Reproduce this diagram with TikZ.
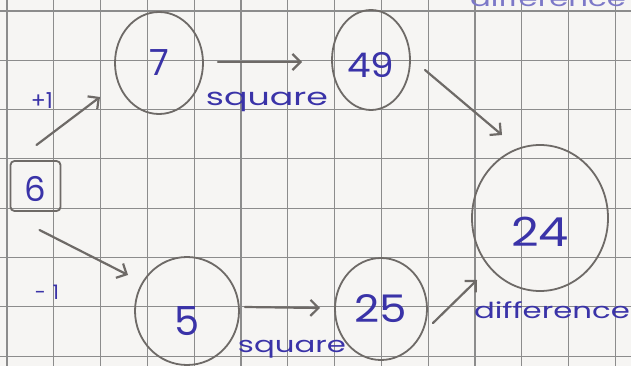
\documentclass[tikz,border=0pt]{standalone}
\usepackage{fontspec}
\setmainfont{Poppins}
\usetikzlibrary{shapes.geometric,arrows.meta}
\definecolor{paper}{HTML}{F6F5F3}
\definecolor{gridc}{HTML}{8C8C8C}
\definecolor{ink}{HTML}{3A33A8}
\definecolor{inkfaint}{HTML}{7C78C8}
\definecolor{pencil}{HTML}{6E6A67}
\newcommand\widetext[2]{\scalebox{#1}[1]{#2}}
\tikzset{
  bubble/.style={ellipse, draw=pencil, line width=1.8pt, inner sep=0pt, text=ink},
  numbox/.style={rectangle, rounded corners=4pt, draw=pencil, line width=1.8pt, text=ink, inner sep=0pt},
  arr/.style={draw=pencil, line width=2.2pt, line cap=round, -{Straight Barb[length=8pt,width=16pt,line width=2.2pt]}},
  lbl/.style={text=ink, inner sep=0pt},
  gridline/.style={draw=gridc, line width=1.1pt}
}
\begin{document}
\begin{tikzpicture}[x=1pt,y=-1pt]
\useasboundingbox (0,0) rectangle (631,366);
\clip (0,0) rectangle (631,366);
\fill[paper] (0,0) rectangle (631,366);
% grid paper
\foreach \k in {0,...,13} \draw[gridline] ({7+46.8*\k},0) -- ({7+46.8*\k},366);
\foreach \k in {0,...,7} \draw[gridline] (0,{11+49.3*\k}) -- (631,{11+49.3*\k});

% nodes
\node[numbox, minimum width=50pt, minimum height=50pt, text height=31pt, text depth=0pt, font=\fontsize{34}{34}\selectfont] (six) at (35.5,186) {6};
\node[bubble, minimum width=88pt, minimum height=102pt, font=\fontsize{36}{36}\selectfont] (seven) at (159,63) {7};
\node[bubble, minimum width=78pt, minimum height=100pt, text height=36pt, text depth=0pt, font=\fontsize{34}{34}\selectfont] (fortynine) at (371,60) {\widetext{1.1}{49}};
\node[bubble, minimum width=104pt, minimum height=108pt, text height=48pt, text depth=0pt, font=\fontsize{40}{40}\selectfont] (five) at (187,311) {5};
\node[bubble, minimum width=92pt, minimum height=102pt, font=\fontsize{38}{38}\selectfont] (twentyfive) at (381,309) {\widetext{1.15}{25}};
\node[bubble, minimum width=136pt, minimum height=146pt, text height=56pt, text depth=0pt, font=\fontsize{40}{40}\selectfont] (twentyfour) at (540,218) {\widetext{1.2}{24}};

% labels
\node[lbl, font=\fontsize{22}{22}\selectfont] (plusone) at (42,101) {+1};
\node[lbl, font=\fontsize{20}{20}\selectfont] (minusone) at (47,292) {-\,\,1};
\node[lbl, font=\fontsize{24}{24}\selectfont] (sqtop) at (267,102) {\widetext{1.45}{square}};
\node[lbl, font=\fontsize{22}{22}\selectfont] (sqbot) at (292,349) {\widetext{1.4}{square}};
\node[lbl, font=\fontsize{22}{22}\selectfont] (diff) at (552,310) {\widetext{1.4}{difference}};
\node[lbl, text=inkfaint, anchor=base, font=\fontsize{22}{22}\selectfont] (difftop) at (548,7) {\widetext{1.4}{difference}};

% connectors
\draw[arr] ([shift={(1,-41)}]six.center) -- ([shift={(-59,34)}]seven.center);
\draw[arr] ([shift={(59,-1)}]seven.center) -- ([shift={(-69,2)}]fortynine.center);
\draw[arr] ([shift={(54,10)}]fortynine.center) -- ([shift={(-38,-83)}]twentyfour.center);
\draw[arr] ([shift={(4,44)}]six.center) -- ([shift={(-59,-36)}]five.center);
\draw[arr] ([shift={(58,-4)}]five.center) -- ([shift={(-61,-1)}]twentyfive.center);
\draw[arr] ([shift={(52,14)}]twentyfive.center) -- ([shift={(-63,62)}]twentyfour.center);
\end{tikzpicture}
\end{document}
